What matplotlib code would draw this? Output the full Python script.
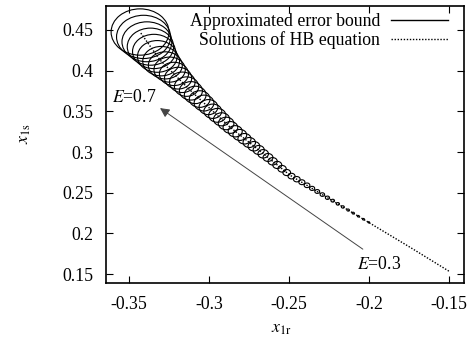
import matplotlib
matplotlib.use('Agg')
import matplotlib.pyplot as plt
from matplotlib.patches import Ellipse
import numpy as np

plt.rcParams['font.family'] = ['Liberation Serif', 'DejaVu Serif']
plt.rcParams['mathtext.fontset'] = 'stix'

# solutions of the HB equation (E = 0.3 ... 0.7)
sol_x = [-0.1500, -0.1744, -0.1994, -0.2244, -0.2494, -0.2681, -0.2869, -0.3119, -0.3306, -0.3431]
sol_y = [0.1536, 0.1831, 0.2126, 0.2421, 0.2716, 0.3012, 0.3307, 0.3762, 0.4131, 0.4475]

# approximated error bound: centres and radii (x units)
bound_x = [-0.3431, -0.3409, -0.3388, -0.3366, -0.3344, -0.3323, -0.3299, -0.3273, -0.3246, -0.3219,
           -0.3193, -0.3167, -0.3140, -0.3113, -0.3086, -0.3058, -0.3031, -0.3003, -0.2976, -0.2948,
           -0.2921, -0.2893, -0.2866, -0.2836, -0.2807, -0.2778, -0.2748, -0.2719, -0.2689, -0.2661,
           -0.2631, -0.2602, -0.2573, -0.2543, -0.2514, -0.2484, -0.2451, -0.2419, -0.2387, -0.2355,
           -0.2323, -0.2291, -0.2259, -0.2226, -0.2194, -0.2163, -0.2130, -0.2098, -0.2066, -0.2034,
           -0.2001]
bound_y = [0.4475, 0.4415, 0.4355, 0.4295, 0.4236, 0.4175, 0.4117, 0.4065, 0.4013, 0.3960,
           0.3908, 0.3857, 0.3804, 0.3752, 0.3702, 0.3651, 0.3602, 0.3552, 0.3501, 0.3451,
           0.3402, 0.3351, 0.3302, 0.3255, 0.3210, 0.3163, 0.3117, 0.3071, 0.3025, 0.2978,
           0.2933, 0.2886, 0.2841, 0.2794, 0.2748, 0.2704, 0.2666, 0.2629, 0.2591, 0.2553,
           0.2515, 0.2477, 0.2438, 0.2402, 0.2363, 0.2325, 0.2287, 0.2249, 0.2211, 0.2174,
           0.2136]
bound_r = [0.0181, 0.0169, 0.0156, 0.0145, 0.0134, 0.0124, 0.0115, 0.0106, 0.0098, 0.0091,
           0.0085, 0.0080, 0.0076, 0.0072, 0.0068, 0.0065, 0.0062, 0.0059, 0.0056, 0.0054,
           0.0051, 0.0049, 0.0046, 0.0044, 0.0043, 0.0041, 0.0039, 0.0037, 0.0035, 0.0033,
           0.0031, 0.0029, 0.0028, 0.0026, 0.0024, 0.0022, 0.0021, 0.0019, 0.0018, 0.0016,
           0.0015, 0.0014, 0.0013, 0.0011, 0.0010, 0.0009, 0.0008, 0.0007, 0.0006, 0.0006,
           0.0005]

x_ticks = [-0.35, -0.3, -0.25, -0.2, -0.15]
x_labels = ['-0.35', '-0.3', '-0.25', '-0.2', '-0.15']
y_ticks = [0.15, 0.2, 0.25, 0.3, 0.35, 0.4, 0.45]
y_labels = ['0.15', '0.2', '0.25', '0.3', '0.35', '0.4', '0.45']

arrow_start = (-0.2038, 0.1806)
arrow_end = (-0.3306, 0.3540)

fs = 12.8
fig = plt.figure(figsize=(4.7, 3.44), dpi=100)
ax = fig.add_axes([0.2255, 0.1773, 0.7615, 0.8053])
ax.set_xlim(-0.3644, -0.1406)
ax.set_ylim(0.139, 0.4795)

# pixel scale of each axis, so the bounds keep their shape on screen
fig.canvas.draw()
px_x = ax.transData.transform((1, 0))[0] - ax.transData.transform((0, 0))[0]
px_y = ax.transData.transform((0, 1))[1] - ax.transData.transform((0, 0))[1]
squash = 1.25

for cx, cy, r in zip(bound_x, bound_y, bound_r):
    w = 2 * r
    h = 2 * r * px_x / px_y / squash
    ax.add_patch(Ellipse((cx, cy), w, h, fill=False, edgecolor='black', linewidth=0.8))

ax.plot([], [], color='black', linewidth=1.0, label='Approximated error bound')
ax.plot(sol_x, sol_y, color='black', linewidth=1.0, linestyle=(0, (1, 1.2)),
        label='Solutions of HB equation')

ax.annotate('', xy=arrow_end, xytext=arrow_start,
            arrowprops=dict(arrowstyle='-|>', color='#444444', lw=0.7,
                            mutation_scale=14, shrinkA=0, shrinkB=0))
ax.text(-0.3606, 0.3676, r'$E$=0.7', fontsize=fs, va='center', ha='left')
ax.text(-0.2075, 0.1622, r'$E$=0.3', fontsize=fs, va='center', ha='left')

ax.set_xticks(x_ticks)
ax.set_xticklabels(x_labels)
ax.set_yticks(y_ticks)
ax.set_yticklabels(y_labels)
ax.tick_params(direction='in', length=5, width=0.8, top=True, right=True,
               labelsize=fs, pad=9)
for s in ax.spines.values():
    s.set_linewidth(1.2)

ax.set_xlabel(r'$x_{\rm 1r}$', fontsize=fs)
ax.set_ylabel(r'$x_{\rm 1s}$', fontsize=fs)
ax.xaxis.set_label_coords(0.49, -0.135)
ax.yaxis.set_label_coords(-0.205, 0.54)

ax.legend(loc='upper right', frameon=False, markerfirst=False, fontsize=fs,
          handlelength=3.2, labelspacing=0.05, borderaxespad=0.0,
          bbox_to_anchor=(0.975, 1.0), handletextpad=0.6)

plt.savefig('out.png', dpi=100)
